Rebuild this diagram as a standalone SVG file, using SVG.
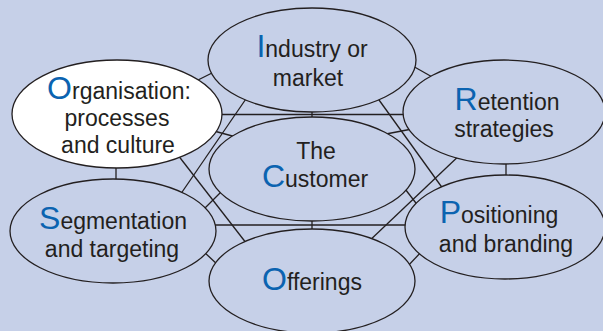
<svg xmlns="http://www.w3.org/2000/svg" width="603" height="331" viewBox="0 0 603 331">
<style>
.bg{fill:#c6d0e8}
.node{fill:#c6d0e8;stroke:#231f20;stroke-width:1.3}
.white{fill:#ffffff}
.ln{stroke:#231f20;stroke-width:1.3;fill:none}
text{font-family:"Liberation Sans",Arial,sans-serif;font-size:23px;fill:#231f20;text-anchor:middle}
.big{font-size:32px;fill:#0b63b0}
</style>
<rect class="bg" x="0" y="0" width="603" height="331"/>
<g id="connectors" class="ln">
<line x1="215" y1="114.5" x2="410" y2="114.5"/>
<line x1="210" y1="225" x2="410" y2="225"/>
<line x1="312" y1="108" x2="312" y2="120"/>
<line x1="312" y1="218" x2="312" y2="231"/>
<line x1="116" y1="164" x2="116" y2="183"/>
<line x1="506" y1="160" x2="506" y2="178"/>
<line x1="250" y1="93" x2="178" y2="198"/>
<line x1="174" y1="150" x2="250" y2="248"/>
<line x1="374" y1="93" x2="446" y2="193"/>
<line x1="464" y1="151" x2="366" y2="244"/>
<line x1="196" y1="81" x2="216" y2="71"/>
<line x1="411" y1="65" x2="434" y2="78"/>
<line x1="214" y1="131" x2="236" y2="137"/>
<line x1="386" y1="134" x2="412" y2="129"/>
<line x1="201" y1="212" x2="224" y2="189"/>
<line x1="203" y1="251" x2="219" y2="266"/>
<line x1="402" y1="185" x2="419" y2="207"/>
<line x1="406" y1="268" x2="423" y2="250"/>
</g>
<g id="industry">
<ellipse class="node" cx="312" cy="60" rx="104" ry="52"/>
<text x="312" y="57"><tspan class="big">I</tspan>ndustry or</text>
<text x="308" y="86">market</text>
</g>
<g id="organisation">
<ellipse class="node white" cx="117" cy="114" rx="105" ry="54"/>
<text x="119" y="99"><tspan class="big">O</tspan>rganisation:</text>
<text x="117" y="126">processes</text>
<text x="118" y="153">and culture</text>
</g>
<g id="retention">
<ellipse class="node" cx="504" cy="112" rx="101" ry="52"/>
<text x="507" y="110"><tspan class="big">R</tspan>etention</text>
<text x="504" y="137">strategies</text>
</g>
<g id="customer">
<ellipse class="node" cx="312" cy="169" rx="103" ry="52"/>
<text x="316" y="159">The</text>
<text x="315" y="187"><tspan class="big">C</tspan>ustomer</text>
</g>
<g id="segmentation">
<ellipse class="node" cx="113" cy="231" rx="103" ry="52"/>
<text x="113" y="229"><tspan class="big">S</tspan>egmentation</text>
<text x="112" y="257">and targeting</text>
</g>
<g id="positioning">
<ellipse class="node" cx="505" cy="227" rx="100" ry="52"/>
<text x="499" y="223"><tspan class="big">P</tspan>ositioning</text>
<text x="506" y="252">and branding</text>
</g>
<g id="offerings">
<ellipse class="node" cx="312" cy="281" rx="103" ry="52"/>
<text x="312" y="290"><tspan class="big">O</tspan>fferings</text>
</g>
</svg>
